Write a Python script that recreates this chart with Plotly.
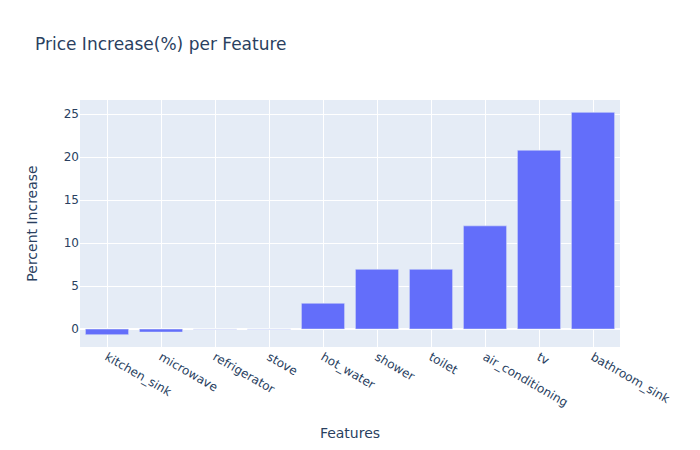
import plotly.graph_objects as go

features = ["kitchen_sink", "microwave", "refrigerator", "stove", "hot_water",
            "shower", "toilet", "air_conditioning", "tv", "bathroom_sink"]
percent_increase = [-0.65, -0.35, -0.02, -0.01, 3.0, 6.95, 6.95, 12.0, 20.8, 25.2]

fig = go.Figure(go.Bar(x=features, y=percent_increase))
fig.update_layout(
    title="Price Increase(%) per Feature",
    font=dict(family="DejaVu Sans"),
    width=700, height=450,
    margin=dict(l=80, r=80, t=100, b=103),
)
fig.update_xaxes(showgrid=True, tickangle=30, automargin=False,
                 title=dict(text="Features", standoff=19))
fig.update_yaxes(automargin=False,
                 title=dict(text="Percent Increase", standoff=22))
fig.write_html("out.html", config={"displayModeBar": False},
               post_script="document.body.style.margin='0';")
